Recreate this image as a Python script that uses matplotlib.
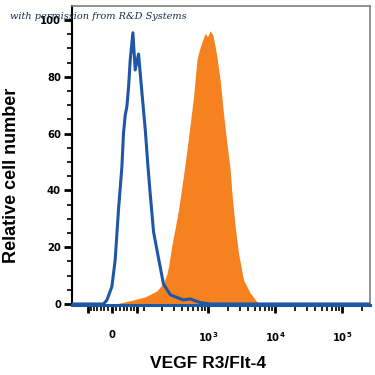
import numpy as np
import matplotlib
matplotlib.use("Agg")
import matplotlib.pyplot as plt

# ================================
# DATA
# ================================
# isotype control (blue outline)
CONTROLE_X = [-138, -31.4, -22.5, -13.5, -0.8, 7.6, 16.1, 25.1, 29.5, 34.2, 39.0, 44.3,
              48.8, 57.2, 64.8, 76.6, 89.6, 103.5, 115.8, 127.1, 144.4, 174.0, 209.3,
              268.9, 425.8, 537.4, 759.7, 1073, 262000]
CONTROLE_Y = [0, 0, 0, 1.4, 6.1, 15.5, 33.1, 48.3, 60.2, 66.5, 69.5, 77.1,
              85.9, 95.5, 82.4, 88.0, 74.3, 61.3, 48.3, 38.4, 25.4, 16.2, 7.0,
              3.2, 1.4, 1.8, 0.5, 0, 0]

# VEGF R3 stained cells (orange filled)
AMOSTRA_X = [-31.4, 15.4, 58.1, 103.5, 163.5, 209.3, 236.8, 250.7, 283.2, 318.3, 357.1,
             402.3, 451.9, 524.7, 602.8, 678.1, 716.5, 805.2, 902.6, 977.4, 1073, 1177,
             1274, 1351, 1513, 1695, 1906, 2136, 2264, 2535, 2839, 3371, 4245, 5344, 6346]
AMOSTRA_Y = [0, 0.2, 1.4, 2.5, 4.6, 7.4, 10.6, 13.1, 20.8, 26.8, 33.1,
             41.2, 49.6, 61.3, 72.9, 85.9, 88.4, 92.2, 95.3, 94.1, 96.2, 94.7,
             90.6, 87.1, 78.9, 67.1, 56.6, 47.2, 39.1, 27.2, 18.0, 8.5, 3.9, 0.8, 0]

XTICKS_MAIORES = [0, 1e3, 1e4, 1e5]
XTICK_LABELS = ["0", r"10$^{\mathbf{3}}$", r"10$^{\mathbf{4}}$", r"10$^{\mathbf{5}}$"]
XTICKS_EXTRA = [-70, 70]
YTICKS = [0, 20, 40, 60, 80, 100]

AZUL = "#1f56a5"
LARANJA = "#f5821f"

# ================================
# BIEXPONENTIAL-LIKE AXIS
# ================================
W = 74.0

def fwd(x):
    return np.arcsinh(np.asarray(x, dtype=float) / W)

def inv(y):
    return W * np.sinh(np.asarray(y, dtype=float))

plt.rcParams['font.family'] = ['Liberation Sans', 'DejaVu Sans']
plt.rcParams['mathtext.fontset'] = 'dejavusans'

fig = plt.figure(figsize=(3.75, 3.75), dpi=100)
ax = fig.add_axes([0.192, 0.1856, 0.795, 0.799])
ax.set_xscale('function', functions=(fwd, inv))

ax.fill_between(AMOSTRA_X, AMOSTRA_Y, 0, color=LARANJA, lw=0, zorder=2)
ax.plot(CONTROLE_X, CONTROLE_Y, color=AZUL, lw=2.2, zorder=3, solid_joinstyle='round')

ax.set_xlim(-138, 262000)
ax.set_ylim(-0.5, 105)

# x ticks
minor = [v * s for v in [10, 20, 30, 40, 50, 60] for s in (1, -1)]
for d in [100, 1000, 10000]:
    for m in range(1, 10):
        if m * d not in XTICKS_MAIORES:
            minor.append(m * d)
minor += [2e5]
ax.set_xticks(XTICKS_MAIORES + XTICKS_EXTRA)
ax.set_xticklabels(XTICK_LABELS + ["", ""])
ax.set_xticks(minor, minor=True)

ax.set_yticks(YTICKS)
ax.set_yticks(np.arange(0, 101, 5), minor=True)

ax.tick_params(axis='x', which='major', length=6, width=2, pad=12,
               labelsize=7.2, direction='out')
ax.tick_params(axis='x', which='minor', length=4, width=1.2, direction='out')
ax.tick_params(axis='y', which='major', length=6, width=2, pad=2,
               labelsize=7.2, direction='out')
ax.tick_params(axis='y', which='minor', length=3.5, width=1.2, direction='out')
for lab in ax.get_xticklabels() + ax.get_yticklabels():
    lab.set_fontweight('bold')
    lab.set_family('DejaVu Sans')

for lado in ['top', 'right']:
    ax.spines[lado].set_color('#808080')
    ax.spines[lado].set_linewidth(1.2)
ax.spines['left'].set_linewidth(1.5)
ax.spines['bottom'].set_color(AZUL)
ax.spines['bottom'].set_linewidth(2.2)

ax.set_xlabel("VEGF R3/Flt-4", fontsize=12.5, fontweight='bold')
ax.set_ylabel("Relative cell number", fontsize=13, fontweight='bold')
ax.xaxis.set_label_coords(0.456, -0.17)
ax.yaxis.set_label_coords(-0.175, 0.435)

fig.text(0.027, 0.955, "with permission from R&D Systems", fontsize=7,
         style='italic', family='DejaVu Serif', color='#1a2a4a', va='center', zorder=10)

fig.savefig("out.png", dpi=100)
